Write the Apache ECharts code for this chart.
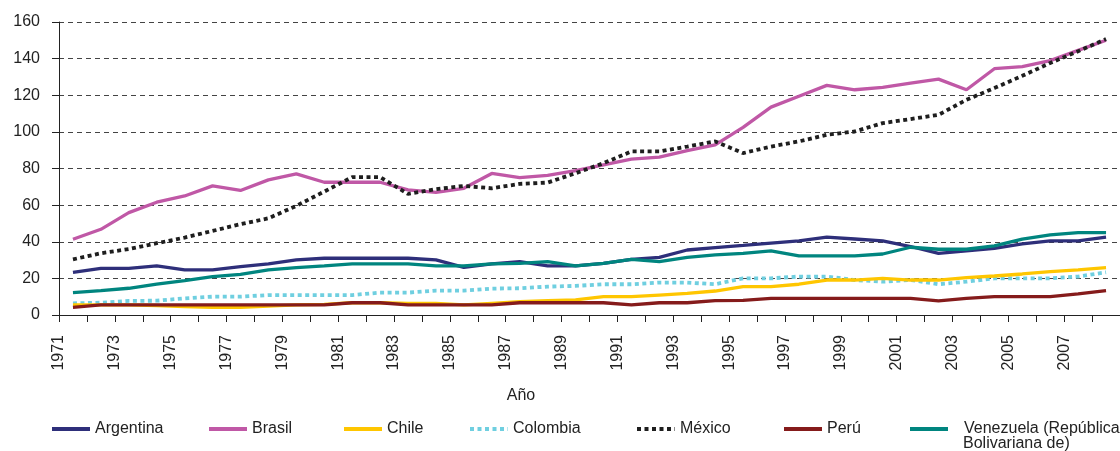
<!DOCTYPE html>
<html>
<head>
<meta charset="utf-8">
<script src="https://cdn.jsdelivr.net/npm/echarts@6/dist/echarts.min.js"></script>
<style>
html,body{margin:0;padding:0;background:#fff;}
#chart{width:1120px;height:451px;}
</style>
</head>
<body>
<div id="chart"></div>
<script>
// ---- data (1971-2008) ----
const years = [];
for (let y = 1971; y <= 2008; y++) years.push(y);

const argentina = [23.3,25.5,25.5,26.8,24.6,24.6,26.4,27.9,30.1,31,31,31,
  31,30.1,26,27.9,29.2,26.8,26.8,28.2,30.4,31.5,35.5,36.8,
  38,39.3,40.5,42.5,41.5,40.5,37.4,33.7,35,36.4,38.8,40.5,40.5,42.5];
const brasil = [41.4,46.8,55.9,61.6,65,70.5,68,73.8,77.1,72.5,72.5,72.5,
  68.3,67,69.2,77.3,75,76.2,78.8,82,85.1,86.2,89.8,92.9,
  102.5,113.5,119.5,125.4,123,124.3,126.6,128.8,123,134.5,135.6,138.9,144.5,150];
const chile = [5.5,5.5,5.5,5.2,4.6,4.2,4.2,4.9,5.5,5.8,6.7,6.7,
  6.4,6.4,5.5,6.4,7.3,7.8,8.2,10,10,10.9,11.8,13.1,
  15.5,15.5,16.8,19.1,19.1,20,19.1,19.1,20.4,21.3,22.4,23.7,24.6,25.9];
const colombia = [6.4,6.7,7.7,7.8,9.1,10,10,10.9,10.9,10.9,10.9,12.2,
  12.2,13.3,13.3,14.4,14.6,15.5,15.9,16.8,16.8,17.7,17.7,16.8,
  20,20,21,21,19.1,18.2,19.1,16.8,18.2,20,20,20,21,23.3];
const mexico = [30.4,33.7,36,39.2,42.3,45.9,49.6,52.8,59.6,67.4,75.3,75.3,
  66.1,68.7,70.5,69.2,71.6,72.3,77.4,82.9,89.3,89.3,92,94.8,
  88.4,92,94.8,98.4,100.2,104.8,107,109.3,117.5,123.9,130.6,137.6,144,150.7];
const peru = [4.2,5.5,5.5,5.5,5.5,5.5,5.5,5.5,5.5,5.5,6.7,6.7,
  5.5,5.5,5.5,5.5,6.7,6.7,6.7,6.7,5.5,6.7,6.7,7.8,
  8,9.1,9.1,9.1,9.1,9.1,9.1,7.7,9.1,10,10,10,11.5,13.3];
const venezuela = [12.2,13.3,14.6,16.8,18.8,21,22.2,24.6,25.9,26.8,27.9,27.9,
  27.9,26.8,26.8,27.9,28.2,29.2,26.8,28.2,30.4,29.2,31.5,32.8,
  33.7,35,32.3,32.3,32.3,33.3,37,35.9,35.9,37.7,41.4,43.7,45,45];

const yTicks = [0,20,40,60,80,100,120,140,160];
const xAxisName = 'Año';
const names = ['Argentina','Brasil','Chile','Colombia','México','Perú','Venezuela (República Bolivariana de)'];

// ---- chart ----
const FONT = '"Liberation Sans", Arial, sans-serif';
const pair = arr => years.map((y, i) => [y, arr[i]]);

function line(name, arr, color, dashed, z) {
  return {
    name: name, type: 'line', data: pair(arr), symbol: 'none', z: z,
    lineStyle: { color: color, width: dashed ? 3.8 : 3.3, type: dashed ? [4, 3.5] : 'solid', cap: 'butt' },
    itemStyle: { color: color },
    emphasis: { disabled: true }
  };
}

const legendLefts = [50, 207, 342, 468, 635, 782, 908];
const legends = names.map((n, i) => ({
  data: [n], left: legendLefts[i], top: 421, padding: 0,
  itemWidth: 38, itemHeight: 14, selectedMode: false,
  itemStyle: { opacity: 0 },
  lineStyle: { width: 4 },
  formatter: i === 6 ? 'Venezuela (República' : '{name}',
  textStyle: { fontSize: 16, color: '#222', fontFamily: FONT, padding: i === 6 ? [0,0,0,11] : 0 }
}));

const chart = echarts.init(document.getElementById('chart'), null, { renderer: 'canvas' });
chart.setOption({
  animation: false,
  backgroundColor: '#fff',
  grid: { left: 59, top: 22, width: 1063, height: 293, containLabel: false },
  xAxis: {
    type: 'value', min: 1970.5, max: 2008.5, interval: 1,
    axisLine: { show: true, lineStyle: { color: '#222', width: 1 } },
    axisTick: { show: true, length: 7, lineStyle: { color: '#222' } },
    splitLine: { show: false },
    axisLabel: {
      rotate: 90, margin: 20, fontSize: 16, color: '#222', fontFamily: FONT,
      formatter: v => { const y = Math.round(v + 0.5); return ((y - years[0]) % 2 === 0 && y <= 2007) ? String(y) : ''; }
    }
  },
  yAxis: {
    type: 'value', min: yTicks[0], max: yTicks[yTicks.length - 1], interval: 20,
    axisLine: { show: true, lineStyle: { color: '#222', width: 1 } },
    axisTick: { show: true, length: 7, lineStyle: { color: '#222' } },
    splitLine: { show: true, lineStyle: { color: '#444', width: 1, type: [5, 4] } },
    axisLabel: { margin: 19, fontSize: 16, color: '#222', fontFamily: FONT }
  },
  legend: legends,
  graphic: [
    { type: 'text', x: 521, y: 396, style: { text: xAxisName, fill: '#222', font: '16px ' + FONT, textAlign: 'center', textVerticalAlign: 'middle' } },
    { type: 'text', x: 963, y: 444, style: { text: 'Bolivariana de)', fill: '#222', font: '16px ' + FONT, textAlign: 'left', textVerticalAlign: 'middle' } }
  ],
  series: [
    line(names[0], argentina, '#2E2F7A', false, 2),
    line(names[1], brasil, '#C058A6', false, 2),
    line(names[3], colombia, '#6FCFE0', true, 2),
    line(names[2], chile, '#FFC600', false, 2),
    line(names[4], mexico, '#1E1E1E', true, 2),
    line(names[5], peru, '#851B1B', false, 2),
    line(names[6], venezuela, '#00857F', false, 2)
  ]
});
</script>
</body>
</html>
